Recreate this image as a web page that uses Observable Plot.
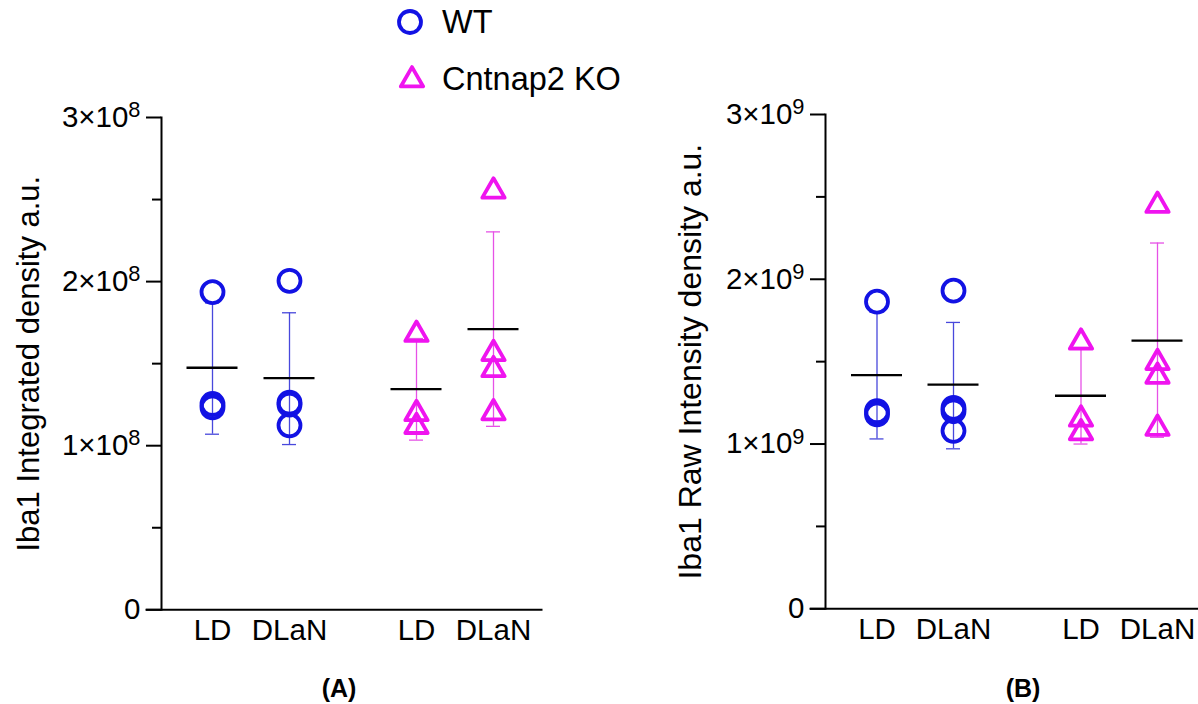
<!DOCTYPE html>
<html>
<head>
<meta charset="utf-8">
<script src="https://cdn.jsdelivr.net/npm/d3@7"></script>
<script src="https://cdn.jsdelivr.net/npm/@observablehq/plot@0.6"></script>
<style>
  html, body { margin: 0; padding: 0; background: #fff; overflow: hidden; }
  #root { position: relative; width: 1198px; height: 704px; overflow: hidden; background: #fff;
          font-family: "Liberation Sans", Arial, sans-serif; }
  .panel { position: absolute; top: 0; }
  .panel svg { max-width: none !important; }
  #overlay { position: absolute; left: 0; top: 0; pointer-events: none; }
</style>
</head>
<body>
<div id="root"></div>
<script>
// ---------- data ----------
const genotypes = ["WT", "Cntnap2 KO"];
const conditions = ["LD", "DLaN"];
const groupKeys = [["WT", "LD"], ["WT", "DLaN"], ["Cntnap2 KO", "LD"], ["Cntnap2 KO", "DLaN"]];
const symbols = ["circle", "triangle"];
const markerColors = ["#1212e4", "#ef14ef"];
const barColors = ["#4848dc", "#e652e6"];

// Panel A – Iba1 Integrated density a.u.
const aWT_LD   = [1.936e8, 1.254e8, 1.233e8];
const aWT_DLaN = [2.005e8, 1.262e8, 1.250e8, 1.124e8];
const aKO_LD   = [1.690e8, 1.207e8, 1.129e8];
const aKO_DLaN = [2.563e8, 1.573e8, 1.475e8, 1.212e8];
const aMean = [1.475e8, 1.412e8, 1.345e8, 1.710e8];
const aLow  = [1.070e8, 1.007e8, 1.034e8, 1.118e8];
const aHigh = [1.870e8, 1.810e8, 1.653e8, 2.303e8];
const aTicks = [0, 1e8, 2e8, 3e8];
const aTickLabels = ["0", "1×10^8", "2×10^8", "3×10^8"];
const aMinorTicks = [0.5e8, 1.5e8, 2.5e8];

// Panel B – Iba1 Raw Intensity density a.u.
const bWT_LD   = [1.864e9, 1.199e9, 1.180e9];
const bWT_DLaN = [1.931e9, 1.220e9, 1.199e9, 1.080e9];
const bKO_LD   = [1.630e9, 1.163e9, 1.080e9];
const bKO_DLaN = [2.460e9, 1.506e9, 1.423e9, 1.107e9];
const bMean = [1.418e9, 1.360e9, 1.293e9, 1.628e9];
const bLow  = [1.031e9, 0.971e9, 1.000e9, 1.041e9];
const bHigh = [1.800e9, 1.738e9, 1.586e9, 2.220e9];
const bTicks = [0, 1e9, 2e9, 3e9];
const bTickLabels = ["0", "1×10^9", "2×10^9", "3×10^9"];
const bMinorTicks = [0.5e9, 1.5e9, 2.5e9];

const panelTitles = ["Iba1 Integrated density a.u.", "Iba1 Raw Intensity density a.u."];
const panelTags = ["(A)", "(B)"];

// ---------- helpers ----------
function points(series) {
  return series.flatMap((vals, i) => vals.map(v => ({g: groupKeys[i][0], c: groupKeys[i][1], v})));
}
function summary(mean, lo, hi) {
  return mean.map((m, i) => ({g: groupKeys[i][0], c: groupKeys[i][1], mean: m, lo: lo[i], hi: hi[i]}));
}

const FONT = '"Liberation Sans", Arial, sans-serif';
const H = 650;

function buildPanel(cfg) {
  const bw = 51;                                   // mean-line width = band width
  const pi = 1 - bw / cfg.step;
  const po = (cfg.c0 - cfg.axisX - bw / 2) / cfg.step;
  const W = cfg.step * (2 - pi + 2 * po);
  const fpi = (cfg.offset - W) / cfg.offset;
  const frameRight = cfg.axisX + cfg.offset + W;
  const width = Math.ceil(frameRight - cfg.left + 4);
  const marginLeft = cfg.axisX - cfg.left;
  const marginRight = cfg.left + width - frameRight;
  const capInset = (bw - 14) / 2;

  const marks = [
    Plot.frame({facet: "super", anchor: "bottom", stroke: "#000", strokeWidth: 2,
                insetLeft: -15, insetRight: Math.max(0, frameRight - cfg.axisEnd)}),
    Plot.frame({facet: "super", anchor: "left", stroke: "#000", strokeWidth: 2}),
    Plot.axisY(cfg.minorTicks, {tickSize: 9, strokeWidth: 2, tickFormat: () => "", label: null}),
    Plot.axisY(cfg.ticks, {
      tickSize: 15, tickPadding: 6, strokeWidth: 2,
      tickFormat: d => cfg.tickLabels[cfg.ticks.indexOf(d)],
      label: cfg.title, labelAnchor: "center", labelOffset: cfg.labelOffset, labelArrow: "none"
    }),
    Plot.axisX({tickSize: 0, tickPadding: 9, label: null})
  ];

  genotypes.forEach((g, gi) => {
    const p = cfg.pts.filter(d => d.g === g);
    const s = cfg.sum.filter(d => d.g === g);
    marks.push(
      Plot.ruleX(s, {fx: "g", x: "c", y1: "lo", y2: "hi", stroke: barColors[gi], strokeWidth: 1.3}),
      Plot.tickY(s, {fx: "g", x: "c", y: "lo", stroke: barColors[gi], strokeWidth: 1.3, insetLeft: capInset, insetRight: capInset}),
      Plot.tickY(s, {fx: "g", x: "c", y: "hi", stroke: barColors[gi], strokeWidth: 1.3, insetLeft: capInset, insetRight: capInset}),
      Plot.tickY(s, {fx: "g", x: "c", y: "mean", stroke: "#000", strokeWidth: 2.3}),
      Plot.dot(p, {fx: "g", x: "c", y: "v", symbol: symbols[gi], r: gi ? 8.3 : 11,
                   stroke: markerColors[gi], strokeWidth: 3.8, fill: "none",
                   strokeLinejoin: "round", dy: gi ? 2 : 0})
    );
  });

  const svg = Plot.plot({
    width, height: H,
    marginLeft, marginRight, marginTop: cfg.top, marginBottom: H - cfg.bottom,
    style: {fontFamily: FONT, fontSize: "29.5px", color: "#000", background: "transparent",
            overflow: "visible", maxWidth: "none"},
    fx: {domain: genotypes, paddingInner: fpi, paddingOuter: 0, round: false, axis: null, label: null},
    x: {type: "band", domain: conditions, paddingInner: pi, paddingOuter: po, round: false},
    y: {domain: [0, cfg.yMax]},
    marks
  });
  svg.style.maxWidth = "none";

  // superscript exponents in tick labels; larger axis title
  d3.select(svg).selectAll("text").each(function () {
    const t = this.textContent;
    if (t.includes("^")) {
      const [base, exp] = t.split("^");
      const sel = d3.select(this);
      sel.text(base);
      sel.append("tspan").attr("dy", "-0.45em").attr("font-size", "0.74em").text(exp);
    } else if (t === cfg.title) {
      d3.select(this).attr("font-size", cfg.titleSize + "px");
    }
  });

  const wrap = document.createElement("div");
  wrap.className = "panel";
  wrap.style.left = cfg.left + "px";
  wrap.style.width = width + "px";
  wrap.style.height = H + "px";
  wrap.appendChild(svg);
  document.getElementById("root").appendChild(wrap);
}

buildPanel({
  pts: points([aWT_LD, aWT_DLaN, aKO_LD, aKO_DLaN]),
  sum: summary(aMean, aLow, aHigh),
  ticks: aTicks, tickLabels: aTickLabels, minorTicks: aMinorTicks, yMax: 3e8,
  title: panelTitles[0], titleSize: 31,
  left: 0, axisX: 161, c0: 212, step: 77, offset: 204, axisEnd: 541,
  top: 117, bottom: 609.3, labelOffset: 145
});

buildPanel({
  pts: points([bWT_LD, bWT_DLaN, bKO_LD, bKO_DLaN]),
  sum: summary(bMean, bLow, bHigh),
  ticks: bTicks, tickLabels: bTickLabels, minorTicks: bMinorTicks, yMax: 3e9,
  title: panelTitles[1], titleSize: 32,
  left: 600, axisX: 825, c0: 876.5, step: 76.5, offset: 204, axisEnd: 1198,
  top: 114, bottom: 608.3, labelOffset: 147
});

// ---------- legend and panel tags ----------
const overlay = d3.select("#root").append("svg")
  .attr("id", "overlay").attr("width", 1198).attr("height", 704)
  .style("font-family", FONT);

const legendRows = [{cx: 410, cy: 22, base: 33}, {cx: 412, cy: 80, base: 90}];
genotypes.forEach((g, gi) => {
  const row = legendRows[gi];
  const r = gi ? 8.3 : 11;
  overlay.append("path")
    .attr("d", d3.symbol(gi ? d3.symbolTriangle : d3.symbolCircle, Math.PI * r * r)())
    .attr("transform", `translate(${row.cx},${row.cy})`)
    .attr("fill", "none").attr("stroke", markerColors[gi]).attr("stroke-width", 3.8)
    .attr("stroke-linejoin", "round");
  overlay.append("text")
    .attr("x", 442).attr("y", row.base)
    .attr("font-size", "32.5px").attr("fill", "#000")
    .text(g);
});

[[339, 697], [1023, 697]].forEach(([x, y], i) => {
  overlay.append("text")
    .attr("x", x).attr("y", y).attr("text-anchor", "middle")
    .attr("font-size", "25px").attr("font-weight", "bold").attr("fill", "#000")
    .text(panelTags[i]);
});
</script>
</body>
</html>
